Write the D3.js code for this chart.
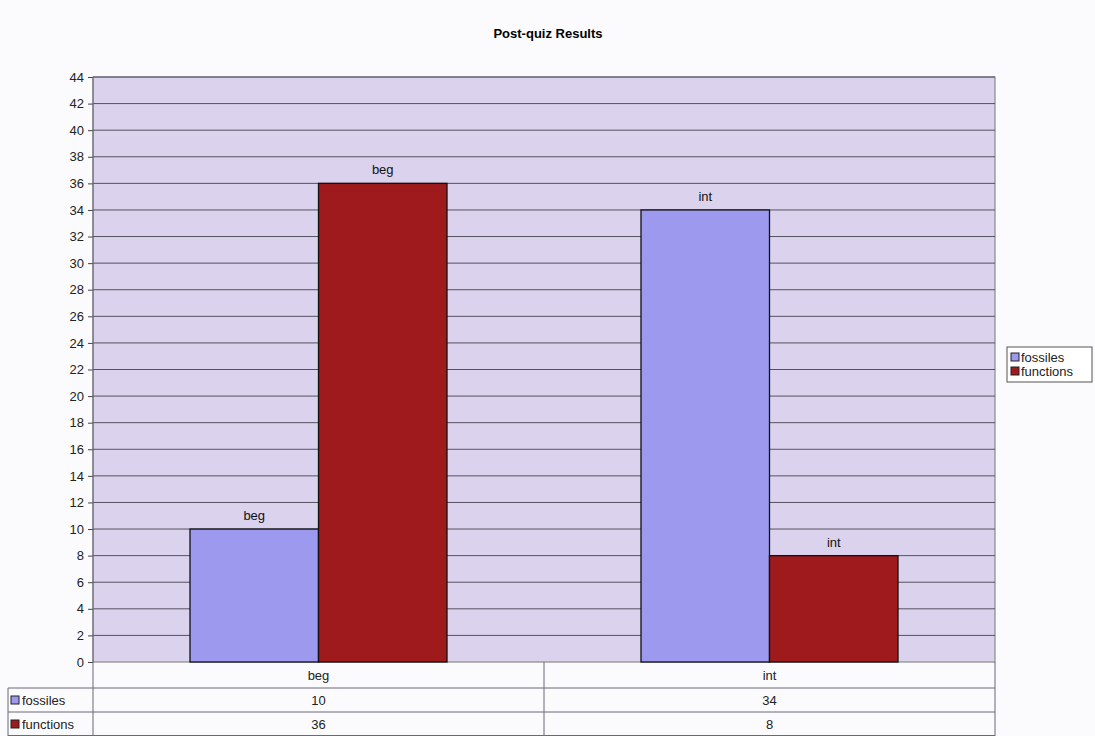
<!DOCTYPE html>
<html>
<head>
<meta charset="utf-8">
<script src="https://cdn.jsdelivr.net/npm/d3@7"></script>
<style>
  body { margin: 0; background: #fbfbfd; }
  svg { font-family: "Liberation Sans", Arial, sans-serif; }
</style>
</head>
<body>
<svg id="chart" width="1095" height="736"></svg>
<script>
// chart data
var categories = ['beg', 'int'];
var seriesNames = ['fossiles', 'functions'];
var fossiles = [10, 34];
var functions = [36, 8];
var yTicks = d3.range(0, 45, 2);
var colors = ['#9c99ee', '#9e1a1c'];

function draw() {
    var values = [fossiles, functions];

    var svg = d3.select('#chart');
    var plotLeft = 93, plotRight = 995, plotTop = 77, plotBottom = 662;
    var fs = '13px';

    svg.append('text')
        .attr('x', 548).attr('y', 38)
        .attr('text-anchor', 'middle')
        .style('font-size', '13px').style('font-weight', 'bold')
        .text('Post-quiz Results');

    var x0 = d3.scaleBand().domain(categories).range([plotLeft, plotRight]);
    var x1 = d3.scaleBand().domain(seriesNames).range([0, 257]);
    var y = d3.scaleLinear().domain([0, 44]).range([plotBottom, plotTop]);

    // plot area
    svg.append('rect')
        .attr('x', plotLeft).attr('y', plotTop)
        .attr('width', plotRight - plotLeft).attr('height', plotBottom - plotTop)
        .attr('fill', '#dbd3ee').attr('stroke', '#777').attr('stroke-width', 1);

    svg.append('g').selectAll('line')
        .data(yTicks.slice(1))
        .enter().append('line')
        .attr('x1', plotLeft).attr('x2', plotRight)
        .attr('y1', function(d) { return y(d); })
        .attr('y2', function(d) { return y(d); })
        .attr('stroke', '#55525e').attr('stroke-width', 1);

    // bars
    var groups = svg.append('g').selectAll('g')
        .data(categories)
        .enter().append('g')
        .attr('transform', function(c) {
            return 'translate(' + (x0(c) + (x0.bandwidth() - 257) / 2) + ',0)';
        });

    groups.selectAll('rect')
        .data(function(c, i) {
            return seriesNames.map(function(s, j) { return {s: s, j: j, c: c, v: values[j][i]}; });
        })
        .enter().append('rect')
        .attr('x', function(d) { return x1(d.s); })
        .attr('y', function(d) { return y(d.v); })
        .attr('width', x1.bandwidth())
        .attr('height', function(d) { return plotBottom - y(d.v); })
        .attr('fill', function(d) { return colors[d.j]; })
        .attr('stroke', '#111').attr('stroke-width', 1.3);

    groups.selectAll('text')
        .data(function(c, i) {
            return seriesNames.map(function(s, j) { return {s: s, c: c, v: values[j][i]}; });
        })
        .enter().append('text')
        .attr('x', function(d) { return x1(d.s) + x1.bandwidth() / 2; })
        .attr('y', function(d) { return y(d.v) - 9; })
        .attr('text-anchor', 'middle')
        .style('font-size', fs).attr('fill', '#111')
        .text(function(d) { return d.c; });

    // y axis
    var yAxis = svg.append('g')
        .attr('transform', 'translate(' + plotLeft + ',0)')
        .call(d3.axisLeft(y).tickValues(yTicks).tickSize(5).tickPadding(4));
    yAxis.select('.domain').remove();
    yAxis.selectAll('line').attr('stroke', '#444');
    yAxis.selectAll('text').style('font-size', fs)
        .style('font-family', '"Liberation Sans", Arial, sans-serif').attr('fill', '#222');

    // data table
    var rowY = [plotBottom, 688, 712, 736];
    var tbl = svg.append('g').attr('stroke', '#6b6878').attr('fill', 'none');
    tbl.append('line').attr('x1', plotLeft).attr('x2', plotLeft).attr('y1', plotTop).attr('y2', 736);
    tbl.append('line').attr('x1', plotRight).attr('x2', plotRight).attr('y1', plotBottom).attr('y2', 736);
    tbl.append('line').attr('x1', 8).attr('x2', 8).attr('y1', rowY[1]).attr('y2', 736);
    tbl.append('line').attr('x1', x0('int')).attr('x2', x0('int')).attr('y1', plotBottom).attr('y2', 736);
    tbl.append('line').attr('x1', 8).attr('x2', plotRight).attr('y1', rowY[1]).attr('y2', rowY[1]);
    tbl.append('line').attr('x1', 8).attr('x2', plotRight).attr('y1', rowY[2]).attr('y2', rowY[2]);
    tbl.append('line').attr('x1', 8).attr('x2', plotRight).attr('y1', 735.5).attr('y2', 735.5);

    svg.append('g').selectAll('text')
        .data(categories)
        .enter().append('text')
        .attr('x', function(c) { return x0(c) + x0.bandwidth() / 2; })
        .attr('y', plotBottom + 18)
        .attr('text-anchor', 'middle').style('font-size', fs).attr('fill', '#222')
        .text(function(c) { return c; });

    seriesNames.forEach(function(s, j) {
        var cy = (rowY[j + 1] + rowY[j + 2]) / 2;
        svg.append('rect')
            .attr('x', 11).attr('y', cy - 4).attr('width', 8).attr('height', 8)
            .attr('fill', colors[j]).attr('stroke', '#222');
        svg.append('text')
            .attr('x', 22).attr('y', cy + 5)
            .style('font-size', fs).attr('fill', '#222').text(s);
        svg.append('g').selectAll('text')
            .data(values[j])
            .enter().append('text')
            .attr('x', function(v, i) { return x0(categories[i]) + x0.bandwidth() / 2; })
            .attr('y', cy + 5)
            .attr('text-anchor', 'middle').style('font-size', fs).attr('fill', '#222')
            .text(function(v) { return v; });
    });

    // legend
    var lg = svg.append('g').attr('transform', 'translate(1007,347)');
    lg.append('rect').attr('width', 85).attr('height', 35)
        .attr('fill', '#fff').attr('stroke', '#555');
    seriesNames.forEach(function(s, j) {
        lg.append('rect').attr('x', 4).attr('y', 6 + j * 14).attr('width', 8).attr('height', 8)
            .attr('fill', colors[j]).attr('stroke', '#222');
        lg.append('text').attr('x', 14).attr('y', 14.5 + j * 14)
            .style('font-size', fs).attr('fill', '#222').text(s);
    });
}

draw();
</script>
</body>
</html>
